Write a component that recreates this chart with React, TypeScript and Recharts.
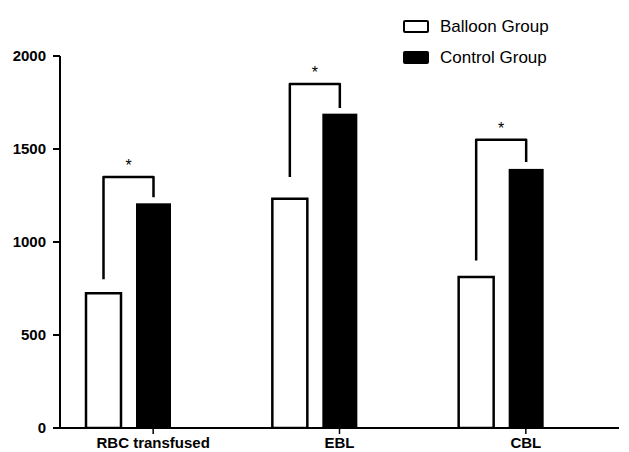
import React from "react";
import { BarChart, Bar, XAxis, YAxis } from "recharts";

const categories = ["RBC transfused", "EBL", "CBL"];
const balloon = [725, 1232, 812];
const control = [1208, 1690, 1393];
// significance brackets (data units)
const bracketTop = [1350, 1850, 1550];
const bracketLeftEnd = [800, 1350, 900];
const bracketRightEnd = [1240, 1720, 1430];
const yTicks = [0, 500, 1000, 1500, 2000];
const seriesNames = ["Balloon Group", "Control Group"];

const BAR = 35;
const GAP = 15;
const FONT = "'Liberation Sans', Arial, sans-serif";

const data = categories.map((c, i) => ({
  name: c,
  balloon: balloon[i],
  control: control[i],
  top: bracketTop[i],
  left: bracketLeftEnd[i],
  right: bracketRightEnd[i],
}));

function ControlShape(props: any) {
  const { x, y, width, height, payload } = props;
  const per = height / payload.control;
  const base = y + height;
  const yOf = (v: number) => base - v * per;
  const rx = x + width / 2;
  const lx = rx - (width + GAP);
  const ty = yOf(payload.top);
  return (
    <g>
      <rect x={x} y={y} width={width} height={height} fill="#000" />
      <path
        d={`M${lx},${yOf(payload.left)} V${ty} H${rx} V${yOf(payload.right)}`}
        fill="none"
        stroke="#000"
        strokeWidth={2.5}
        strokeLinejoin="round"
      />
      <text x={(lx + rx) / 2} y={ty - 6} textAnchor="middle" fontSize={16} fontFamily={FONT} fill="#000">
        *
      </text>
    </g>
  );
}

export default function App() {
  return (
    <div style={{ position: "absolute", left: 0, top: 0, width: 629, height: 452, background: "#fff" }}>
      <BarChart
        width={629}
        height={452}
        data={data}
        margin={{ top: 56, right: 10, bottom: 0, left: 0 }}
        barSize={BAR}
        barGap={GAP}
      >
        <XAxis
          dataKey="name"
          height={24}
          axisLine={{ stroke: "#000", strokeWidth: 2 }}
          tickLine={{ stroke: "#000", strokeWidth: 1.5 }}
          tickSize={6}
          tickMargin={3}
          tick={{ fill: "#000", fontSize: 15, fontWeight: 700, fontFamily: FONT }}
        />
        <YAxis
          width={60}
          domain={[0, 2000]}
          ticks={yTicks}
          allowDataOverflow
          axisLine={{ stroke: "#000", strokeWidth: 2 }}
          tickLine={{ stroke: "#000", strokeWidth: 2 }}
          tickSize={7}
          tickMargin={7}
          tick={{ fill: "#000", fontSize: 15, fontWeight: 700, fontFamily: FONT }}
        />
        <Bar dataKey="balloon" name={seriesNames[0]} fill="#fff" stroke="#000" strokeWidth={2.5} isAnimationActive={false} />
        <Bar dataKey="control" name={seriesNames[1]} fill="#000" shape={ControlShape} isAnimationActive={false} />
        {/* empty slot so the control bar sits on the category tick */}
        <Bar dataKey="spacer" legendType="none" fill="none" isAnimationActive={false} />
      </BarChart>
      {seriesNames.map((n, i) => (
        <div key={n} style={{ position: "absolute", left: 403, top: 19 + i * 31, display: "flex", alignItems: "center" }}>
          <div
            style={{
              width: 22,
              height: 9,
              border: "2.5px solid #000",
              borderRadius: 2,
              background: i === 0 ? "#fff" : "#000",
            }}
          />
          <span style={{ marginLeft: 11, fontSize: 17, fontFamily: FONT, color: "#000", lineHeight: "15px" }}>{n}</span>
        </div>
      ))}
    </div>
  );
}
